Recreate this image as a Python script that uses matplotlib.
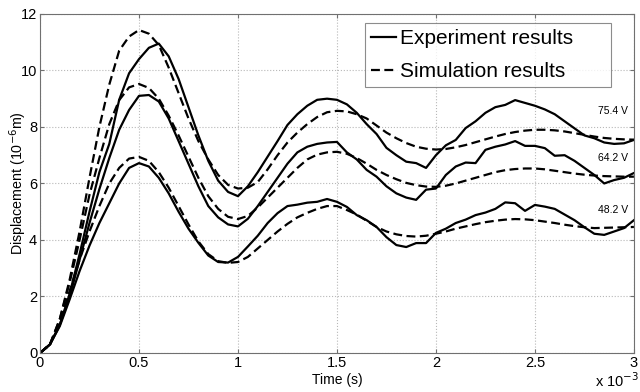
import matplotlib
matplotlib.use("Agg")
import matplotlib.pyplot as plt
import numpy as np

plt.rcParams['font.family'] = ['Liberation Sans', 'DejaVu Sans']

# time in ms (axis shows x 10^-3 s), sampled every 0.05
t = np.round(np.arange(0, 3.0001, 0.05), 2)

sim_754 = [0, 0.3, 1.2, 2.6, 4.3, 6.2, 8.0, 9.5, 10.7, 11.2, 11.43, 11.3, 10.9, 10.1, 9.2,
           8.3, 7.5, 6.85, 6.3, 5.95, 5.82, 5.85, 6.05, 6.5, 7.0, 7.45, 7.8, 8.1, 8.35, 8.52,
           8.57, 8.55, 8.45, 8.3, 8.05, 7.8, 7.6, 7.43, 7.3, 7.23, 7.2, 7.22, 7.28, 7.36, 7.46,
           7.56, 7.66, 7.75, 7.82, 7.87, 7.9, 7.9, 7.88, 7.84, 7.78, 7.72, 7.66, 7.61, 7.58,
           7.56, 7.55]
exp_754 = [0, 0.3, 1.0, 2.1, 3.5, 5.0, 6.4, 7.4, 8.96, 9.9, 10.4, 10.8, 10.95, 10.5, 9.7,
           8.7, 7.7, 6.8, 6.1, 5.7, 5.55, 5.9, 6.4, 6.95, 7.5, 8.07, 8.45, 8.75, 8.96, 9.0,
           8.96, 8.8, 8.5, 8.1, 7.75, 7.26, 7.0, 6.77, 6.72, 6.55, 7.0, 7.35, 7.54, 7.96, 8.2,
           8.5, 8.7, 8.78, 8.95, 8.85, 8.75, 8.62, 8.45, 8.2, 7.95, 7.7, 7.6, 7.45, 7.4, 7.42,
           7.54]
sim_642 = [0, 0.3, 1.2, 2.5, 4.0, 5.6, 6.9, 8.1, 8.95, 9.4, 9.52, 9.38, 9.0, 8.4, 7.7,
           6.95, 6.2, 5.55, 5.1, 4.82, 4.74, 4.85, 5.15, 5.5, 5.85, 6.2, 6.55, 6.85, 7.02, 7.1,
           7.12, 7.05, 6.9, 6.7, 6.48, 6.3, 6.15, 6.02, 5.94, 5.89, 5.88, 5.92, 6.0, 6.1, 6.2,
           6.3, 6.4, 6.47, 6.51, 6.53, 6.53, 6.5, 6.45, 6.4, 6.35, 6.31, 6.28, 6.26, 6.25,
           6.24, 6.24]
exp_642 = [0, 0.3, 1.0, 2.0, 3.3, 4.6, 5.8, 6.9, 7.9, 8.6, 9.1, 9.13, 8.9, 8.3, 7.5,
           6.7, 5.9, 5.2, 4.8, 4.55, 4.48, 4.75, 5.2, 5.7, 6.2, 6.7, 7.1, 7.3, 7.4, 7.45,
           7.47, 7.1, 6.85, 6.48, 6.24, 5.9, 5.65, 5.5, 5.42, 5.78, 5.82, 6.3, 6.6, 6.74, 6.72,
           7.19, 7.3, 7.38, 7.5, 7.33, 7.33, 7.25, 6.98, 7.0, 6.8, 6.55, 6.3, 6.0, 6.12, 6.2,
           6.37]
sim_482 = [0, 0.3, 1.1, 2.2, 3.3, 4.3, 5.2, 6.0, 6.55, 6.88, 6.94, 6.8, 6.4, 5.85, 5.2,
           4.55, 3.95, 3.5, 3.25, 3.19, 3.22, 3.4, 3.7, 4.0, 4.3, 4.57, 4.8, 4.96, 5.1, 5.2,
           5.2, 5.06, 4.9, 4.68, 4.46, 4.3, 4.2, 4.14, 4.12, 4.15, 4.22, 4.3, 4.4, 4.48, 4.56,
           4.63, 4.68, 4.72, 4.74, 4.73, 4.7, 4.65, 4.6, 4.54, 4.49, 4.45, 4.42, 4.43, 4.44,
           4.45, 4.46]
exp_482 = [0, 0.3, 0.95, 1.9, 2.9, 3.8, 4.6, 5.3, 6.0, 6.55, 6.72, 6.6, 6.2, 5.65, 5.0,
           4.4, 3.9, 3.45, 3.22, 3.2, 3.4, 3.77, 4.15, 4.6, 4.95, 5.2, 5.25, 5.32, 5.35, 5.45,
           5.35, 5.17, 4.88, 4.7, 4.46, 4.1, 3.82, 3.75, 3.89, 3.89, 4.25, 4.4, 4.6, 4.72, 4.88,
           4.97, 5.1, 5.33, 5.3, 5.03, 5.24, 5.18, 5.1, 4.9, 4.7, 4.45, 4.22, 4.18, 4.3, 4.42,
           4.7]

voltages = ['75.4 V', '64.2 V', '48.2 V']
label_y = [8.55, 6.9, 5.05]

fig = plt.figure(figsize=(6.4, 3.92), dpi=100)
ax = fig.add_axes([0.0625, 0.0995, 0.928, 0.865])

dash = (0, (4.0, 2.0))
for i, (e, s) in enumerate([(exp_754, sim_754), (exp_642, sim_642), (exp_482, sim_482)]):
    ax.plot(t, e, color='black', lw=1.6, label='Experiment results' if i == 0 else None)
    ax.plot(t, s, color='black', lw=1.6, linestyle=dash,
            label='Simulation results' if i == 0 else None)

for v, y in zip(voltages, label_y):
    ax.text(2.97, y, v, fontsize=7.5, ha='right', va='center')

ax.set_xlim(0, 3)
ax.set_ylim(0, 12)
ax.set_xticks(np.arange(0, 3.01, 0.5))
ax.set_xticklabels(['0', '0.5', '1', '1.5', '2', '2.5', '3'])
ax.set_yticks(np.arange(0, 12.1, 2))
ax.grid(True, color='#b8b8b8', linestyle=':', linewidth=0.8)
ax.tick_params(direction='in', length=3, labelsize=10.5, top=True, right=True,
               color='#707070', pad=2)
for sp in ax.spines.values():
    sp.set_color('#707070')
    sp.set_linewidth(0.8)

ax.set_xlabel('Time (s)', fontsize=10, labelpad=2)
ax.set_ylabel('Displacement (10$^{-6}$m)', fontsize=10.3, va='center')
ax.yaxis.set_label_coords(-0.037, 0.5)
fig.text(0.93, 0.028, 'x 10$^{-3}$', fontsize=10.5, va='center')

leg = ax.legend(loc='upper left', bbox_to_anchor=(0.547, 0.973, 0.414, 0.0), mode='expand',
                fontsize=15, frameon=True, fancybox=False, handlelength=1.2,
                handletextpad=0.2, borderpad=0.3, labelspacing=0.65, borderaxespad=0)
leg.get_frame().set_edgecolor('#707070')
leg.get_frame().set_linewidth(0.8)

fig.savefig('out.png', dpi=100)
